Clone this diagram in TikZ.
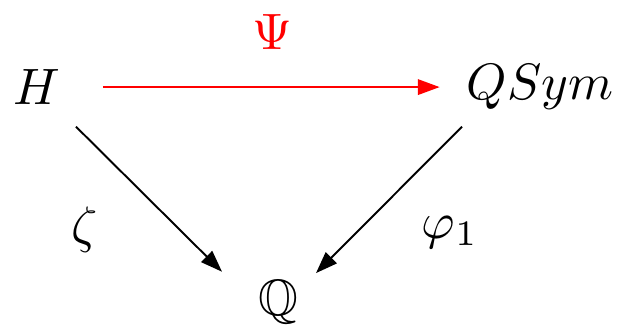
\documentclass[tikz,border=0pt]{standalone}
\usepackage{amsmath,amssymb}
\usepackage{xcolor}
\usetikzlibrary{arrows.meta}
\newcommand{\QQ}{\mathbb{Q}}

\begin{document}
\begin{tikzpicture}[>={Triangle[length=4.5pt,width=3.2pt]},
    every node/.style={scale=1.06}]
  \useasboundingbox (0,0) rectangle (4.52,2.418);
  \node (H) at (0.269,1.784) {\(H\)};
  \node (QS) at (3.93,1.784) {\(QSym\)};
  \node (Q) at (2.024,0.22) {\(\QQ\)};
  \node[red] (psi) at (1.98,2.184) {\(\Psi\)};
  \node (zeta) at (0.619,0.743) {\(\zeta\)};
  \node (phi) at (3.277,0.728) {\(\varphi_1\)};
  % end points of the three maps
  \coordinate (Hr) at ([shift={(0.48,0)}]H.center);
  \coordinate (Hd) at ([shift={(0.284,-0.288)}]H.center);
  \coordinate (QSl) at ([shift={(-0.73,0)}]QS.center);
  \coordinate (QSd) at ([shift={(-0.567,-0.288)}]QS.center);
  \coordinate (Ql) at ([shift={(-0.408,0.22)}]Q.center);
  \coordinate (Qr) at ([shift={(0.276,0.21)}]Q.center);
  \draw[->,red] (Hr) -- (QSl);
  \draw[->] (Hd) -- (Ql);
  \draw[->] (QSd) -- (Qr);
\end{tikzpicture}
\end{document}
